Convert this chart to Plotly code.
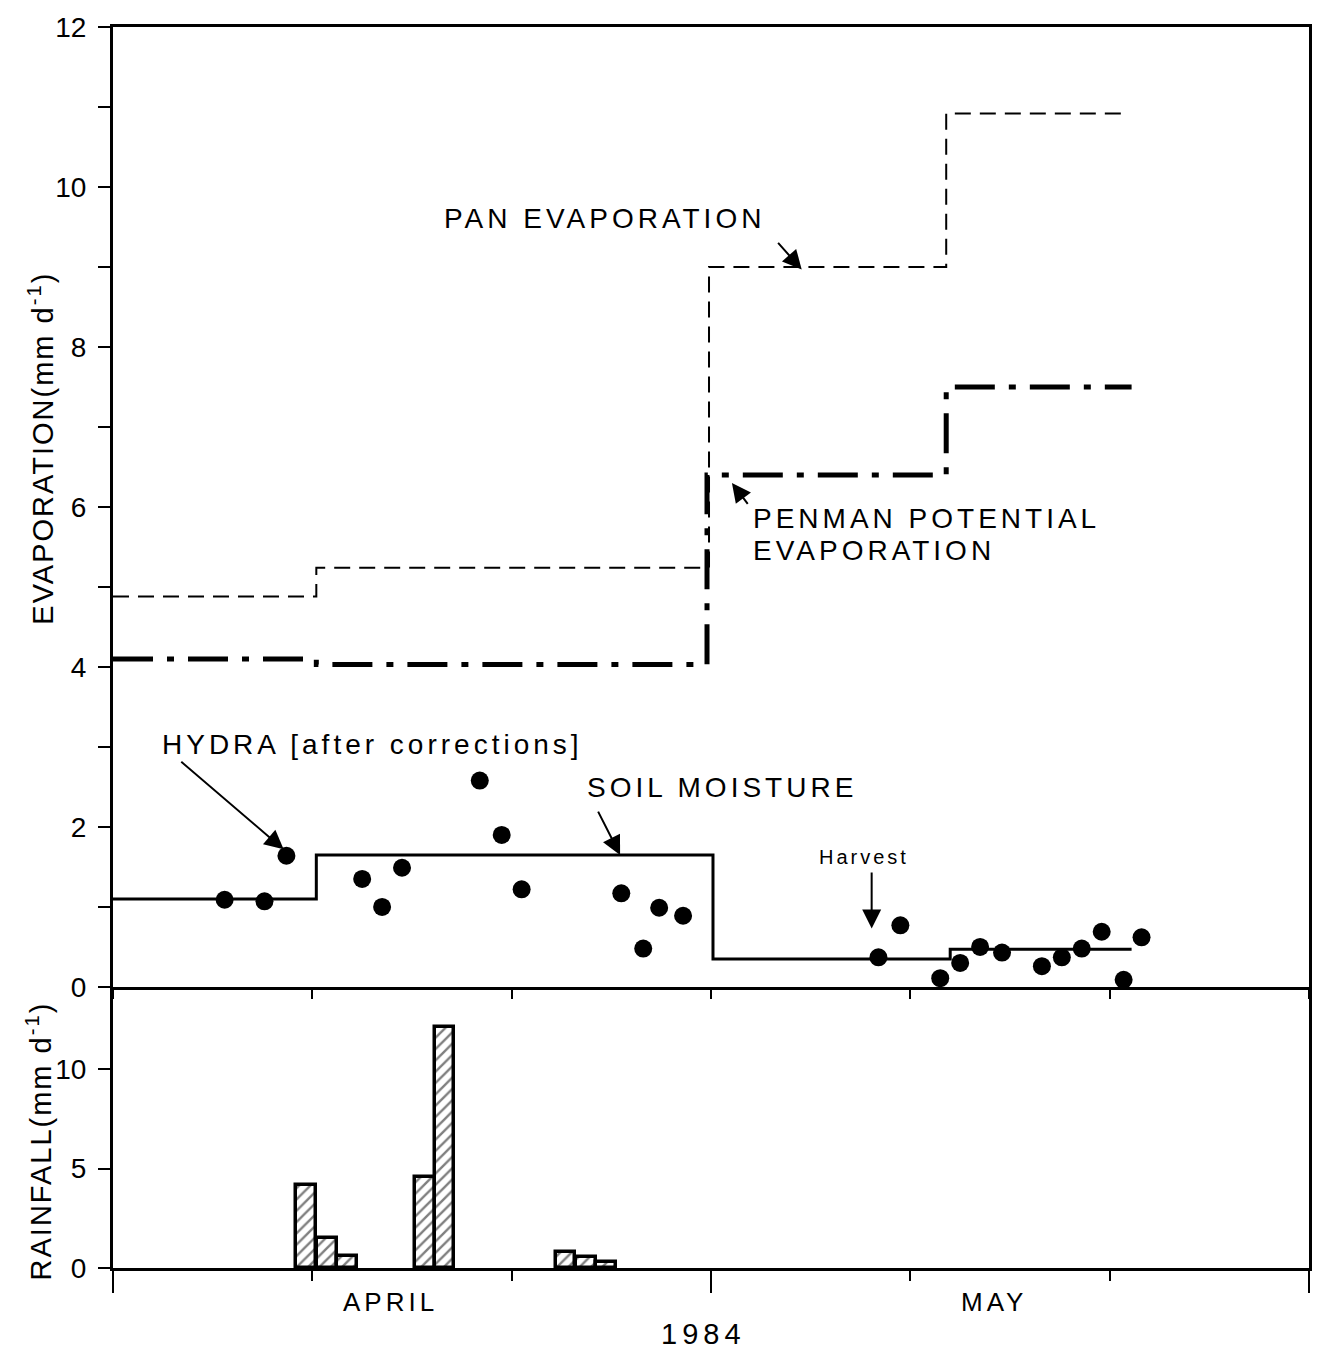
import plotly.graph_objects as go

# ---- data (x = days from start of chart window, ticks every 10 days) ----
pan_x = [0, 10.2, 29.9, 41.8, 50.8]
pan_y = [4.88, 5.24, 9.0, 10.92, 10.92]

penman_x = [0, 10.2, 29.8, 41.8, 51.1]
penman_y = [4.1, 4.03, 6.4, 7.5, 7.5]

soil_x = [0, 10.2, 30.1, 42.0, 51.1]
soil_y = [1.1, 1.65, 0.35, 0.47, 0.47]

hydra_x = [5.6, 7.6, 8.7, 12.5, 13.5, 14.5, 18.4, 19.5, 20.5, 25.5, 26.6, 27.4, 28.6,
           38.4, 39.5, 41.5, 42.5, 43.5, 44.6, 46.6, 47.6, 48.6, 49.6, 50.7, 51.6]
hydra_y = [1.09, 1.07, 1.64, 1.35, 1.0, 1.49, 2.58, 1.9, 1.22, 1.17, 0.48, 0.99, 0.89,
           0.37, 0.77, 0.11, 0.3, 0.5, 0.43, 0.26, 0.37, 0.48, 0.69, 0.09, 0.62]

rain_x = [9.68, 10.72, 11.74, 15.65, 16.63, 22.7, 23.74, 24.74]
rain_mm = [4.2, 1.5, 0.6, 4.6, 12.15, 0.8, 0.55, 0.3]

month_labels = ["APRIL", "MAY"]
month_pos = [13.9, 44.2]
year_label = "1984"

FONT = "Liberation Sans, Arial, sans-serif"

T_MARGIN, B_MARGIN = 14, 83
PLOT_H = 1351 - T_MARGIN - B_MARGIN


def sp(t, s=4):
    return f'<span style="letter-spacing:{s}px">{t}</span>'


def py(pix):
    """page pixel row -> paper fraction"""
    return (1351 - B_MARGIN - pix) / PLOT_H


fig = go.Figure()

fig.add_trace(go.Scatter(x=pan_x, y=pan_y, mode="lines", line_shape="hv",
                         line=dict(color="black", width=2, dash="16px,9px"),
                         xaxis="x", yaxis="y", showlegend=False))
fig.add_trace(go.Scatter(x=penman_x, y=penman_y, mode="lines", line_shape="hv",
                         line=dict(color="black", width=5, dash="40px,14px,7px,14px"),
                         xaxis="x", yaxis="y", showlegend=False))
fig.add_trace(go.Scatter(x=soil_x, y=soil_y, mode="lines", line_shape="hv",
                         line=dict(color="black", width=3),
                         xaxis="x", yaxis="y", showlegend=False))
fig.add_trace(go.Scatter(x=hydra_x, y=hydra_y, mode="markers",
                         marker=dict(color="black", size=18),
                         xaxis="x", yaxis="y", showlegend=False))

fig.add_trace(go.Bar(x=rain_x, y=rain_mm, width=1.0,
                     marker=dict(color="white",
                                 line=dict(color="black", width=3.5),
                                 pattern=dict(shape="/", fgcolor="black", bgcolor="white",
                                              size=8, solidity=0.3)),
                     xaxis="x2", yaxis="y2", showlegend=False))

split = py(984)

axis_common = dict(showgrid=False, zeroline=False, showline=True, linecolor="black",
                   linewidth=3, ticks="outside", tickcolor="black", tickwidth=2,
                   ticklabeloverflow="allow",
                   tickfont=dict(family=FONT, size=28, color="black"))

fig.update_layout(
    width=1324, height=1351,
    margin=dict(l=113, r=13, t=T_MARGIN, b=B_MARGIN),
    paper_bgcolor="white", plot_bgcolor="white",
    font=dict(family=FONT, color="black"),
    bargap=0,
    xaxis=dict(axis_common, domain=[0, 1], anchor="y", range=[0, 60],
               tickvals=[0, 10, 20, 30, 40, 50, 60], ticklen=9,
               showticklabels=False, mirror=True),
    yaxis=dict(axis_common, domain=[split, 1], anchor="x", range=[0, 12],
               tickvals=[0, 2, 4, 6, 8, 10, 12], ticklen=12, mirror=True,
               ticklabelstandoff=6,
               minor=dict(dtick=1, ticklen=12, tickwidth=2, tickcolor="black",
                          ticks="outside", showgrid=False)),
    xaxis2=dict(axis_common, domain=[0, 1], anchor="y2", range=[0, 60],
                tickvals=[0, 30, 60], ticklen=22, showticklabels=False,
                minor=dict(tickvals=[10, 20, 40, 50], ticklen=10, tickwidth=2,
                           tickcolor="black", ticks="outside", showgrid=False)),
    yaxis2=dict(axis_common, domain=[0, split], anchor="x2", range=[0, 14.15],
                tickvals=[0, 5, 10], ticklen=12, mirror=True, ticklabelstandoff=6),
)

ann = []
tf = dict(family=FONT, size=28, color="black")
# text labels (left aligned)
for txt, x, y in [("PAN EVAPORATION", 16.5, 9.6),
                  ("PENMAN POTENTIAL", 32.0, 5.86),
                  ("EVAPORATION", 32.0, 5.46),
                  ("HYDRA [after corrections]", 2.35, 3.03),
                  ("SOIL MOISTURE", 23.7, 2.49)]:
    ann.append(dict(text=sp(txt, 4), x=x, y=y, xref="x", yref="y", xanchor="left",
                    yanchor="middle", showarrow=False, font=tf))
ann.append(dict(text=sp("Harvest", 3), x=35.3, y=1.62, xref="x", yref="y", xanchor="left",
                yanchor="middle", showarrow=False, font=dict(family=FONT, size=20, color="black")))

# arrows (head at x,y ; tail at ax,ay)
for hx, hy, tx, ty in [(34.55, 8.97, 33.3, 9.32),
                       (31.05, 6.30, 31.9, 6.02),
                       (8.56, 1.72, 3.35, 2.83),
                       (25.44, 1.65, 24.3, 2.21),
                       (38.06, 0.73, 38.06, 1.45)]:
    ann.append(dict(text="", x=hx, y=hy, ax=tx, ay=ty, xref="x", yref="y",
                    axref="x", ayref="y", showarrow=True, arrowhead=2, arrowsize=1.9,
                    arrowwidth=2, arrowcolor="black"))

# month labels and year
for lab, pos in zip(month_labels, month_pos):
    ann.append(dict(text=sp(lab, 4), x=pos, y=py(1302), xref="x2", yref="paper",
                    xanchor="center", yanchor="middle", showarrow=False,
                    font=dict(family=FONT, size=26, color="black")))
ann.append(dict(text=sp(year_label, 5), x=29.6, y=py(1335), xref="x2", yref="paper",
                xanchor="center", yanchor="middle", showarrow=False,
                font=dict(family=FONT, size=29, color="black")))

# y-axis titles
ann.append(dict(text=sp("EVAPORATION(mm d<sup>-1</sup>)", 2), x=-73 / 1198, y=py(440),
                xref="paper", yref="paper", xanchor="center", yanchor="middle",
                textangle=-90, showarrow=False, font=dict(family=FONT, size=29, color="black")))
ann.append(dict(text=sp("RAINFALL(mm d<sup>-1</sup>)", 2), x=-74 / 1198, y=py(1140),
                xref="paper", yref="paper", xanchor="center", yanchor="middle",
                textangle=-90, showarrow=False, font=dict(family=FONT, size=29, color="black")))

fig.update_layout(annotations=ann)

fig.write_html("out.html")
